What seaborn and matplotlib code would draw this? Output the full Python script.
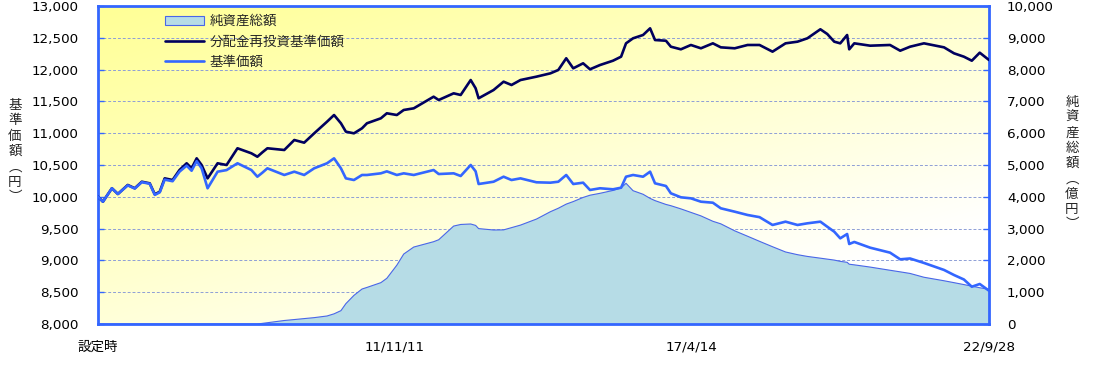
import numpy as np
import pandas as pd
import matplotlib
matplotlib.use("Agg")
import matplotlib.pyplot as plt
import matplotlib.dates as mdates
from matplotlib.colors import LinearSegmentedColormap
import seaborn as sns

# ---------------- data ----------------
dates = [
    "2006-06-04", "2006-07-07", "2006-09-05", "2006-10-15", "2006-12-20", "2007-02-05",
    "2007-03-24", "2007-05-16", "2007-06-19", "2007-07-22", "2007-08-24", "2007-10-16",
    "2007-12-01", "2008-01-18", "2008-02-20", "2008-03-25", "2008-04-27", "2008-06-06",
    "2008-08-12", "2008-10-11", "2008-12-23", "2009-03-26", "2009-05-05", "2009-06-08",
    "2009-07-11", "2009-11-01", "2010-01-07", "2010-03-14", "2010-05-20", "2010-08-14",
    "2010-09-30", "2010-11-15", "2010-12-18", "2011-02-10", "2011-04-05", "2011-05-08",
    "2011-08-09", "2011-09-18", "2011-11-24", "2012-01-09", "2012-03-16", "2012-07-27",
    "2012-08-30", "2012-12-08", "2013-01-24", "2013-04-01", "2013-05-04", "2013-05-24",
    "2013-09-01", "2013-11-07", "2013-12-30", "2014-02-28", "2014-06-15", "2014-09-16",
    "2014-11-08", "2014-12-31", "2015-02-16", "2015-04-23", "2015-06-08", "2015-08-14",
    "2015-11-09", "2016-01-02", "2016-02-04", "2016-03-22", "2016-05-28", "2016-07-14",
    "2016-08-16", "2016-10-28", "2016-11-30", "2017-02-05", "2017-04-13", "2017-06-19",
    "2017-09-07", "2017-10-30", "2018-01-31", "2018-04-27", "2018-07-16", "2018-10-11",
    "2019-01-06", "2019-03-27", "2019-06-01", "2019-08-27", "2019-10-12", "2019-11-28",
    "2020-01-07", "2020-02-22", "2020-03-07", "2020-04-10", "2020-07-25", "2020-12-05",
    "2021-02-11", "2021-04-18", "2021-07-20", "2021-12-01", "2022-02-06", "2022-04-13",
    "2022-06-05", "2022-07-28", "2022-09-28",
]

# 分配金再投資基準価額 (円)
nav_reinvest = [
    10002, 9923, 10134, 10044, 10186, 10134,
    10237, 10212, 10039, 10080, 10290, 10264,
    10421, 10527, 10448, 10605, 10500, 10290,
    10527, 10500, 10763, 10684, 10630, 10700,
    10763, 10736, 10893, 10851, 10998, 11181,
    11286, 11156, 11024, 10998, 11077, 11156,
    11234, 11313, 11286, 11365, 11391, 11574,
    11522, 11627, 11601, 11836, 11706, 11549,
    11679, 11810, 11758, 11836, 11889, 11941,
    11994, 12178, 12020, 12099, 12005, 12072,
    12140, 12203, 12413, 12492, 12544, 12649,
    12465, 12454, 12360, 12319, 12387, 12335,
    12413, 12350, 12335, 12387, 12387, 12282,
    12413, 12439, 12492, 12634, 12560, 12439,
    12413, 12544, 12319, 12413, 12376, 12387,
    12297, 12360, 12413, 12350, 12256, 12203,
    12140, 12266, 12151,
]

# 基準価額 (円)
nav = [
    10002, 9923, 10134, 10044, 10180, 10130,
    10230, 10205, 10030, 10070, 10270, 10245,
    10395, 10490, 10410, 10560, 10450, 10134,
    10395, 10420, 10527, 10421, 10316, 10380,
    10448, 10343, 10395, 10343, 10448, 10527,
    10605, 10448, 10290, 10264, 10343, 10343,
    10369, 10400, 10343, 10369, 10343, 10421,
    10358, 10369, 10327, 10500, 10400, 10201,
    10237, 10316, 10264, 10290, 10228, 10222,
    10237, 10343, 10201, 10222, 10107, 10134,
    10118, 10143, 10316, 10343, 10316, 10395,
    10212, 10170, 10055, 9992, 9976, 9923,
    9907, 9819, 9766, 9714, 9680, 9557,
    9609, 9557, 9583, 9609, 9530, 9451,
    9347, 9415, 9258, 9290, 9200, 9122,
    9017, 9030, 8960, 8850, 8770, 8700,
    8586, 8629, 8524,
]

# 純資産総額 (億円)
net_assets = [
    0, 0, 0, 0, 0, 0,
    0, 0, 0, 0, 0, 0,
    0, 0, 0, 0, 0, 0,
    0, 0, 0, 0, 0, 20,
    40, 110, 140, 170, 200, 252,
    320, 420, 640, 900, 1100, 1150,
    1300, 1437, 1850, 2200, 2420, 2588,
    2650, 3080, 3130, 3145, 3100, 3000,
    2956, 2960, 3030, 3110, 3300, 3531,
    3640, 3770, 3850, 3980, 4050, 4110,
    4200, 4280, 4425, 4192, 4080, 3950,
    3880, 3760, 3720, 3620, 3510, 3400,
    3230, 3150, 2930, 2760, 2600, 2430,
    2265, 2180, 2125, 2070, 2040, 2010,
    1970, 1940, 1880, 1860, 1790, 1690,
    1640, 1590, 1470, 1360, 1300, 1240,
    1190, 1140, 1091,
]

tick_dates = ["2006-06-04", "2011-11-11", "2017-04-14", "2022-09-28"]
tick_labels = ["設定時", "11/11/11", "17/4/14", "22/9/28"]
left_ticks = list(range(8000, 13001, 500))
right_ticks = list(range(0, 10001, 1000))

labels = ["純資産総額", "分配金再投資基準価額", "基準価額"]

# ---------------- styling ----------------
sns.set_style("white")
plt.rcParams["font.family"] = ["DejaVu Sans", "Noto Sans CJK JP"]

BLUE = "#3366FF"
NAVY = "#00005E"
FILL = "#B6DCE6"
FILL_EDGE = "#4A66E8"

df = pd.DataFrame({
    "date": pd.to_datetime(dates),
    "nav_reinvest": nav_reinvest,
    "nav": nav,
    "net_assets": net_assets,
})

W, H = 1093, 370
fig = plt.figure(figsize=(W / 100, H / 100), dpi=100)
pos = [98 / W, 1 - 324 / H, (989 - 98) / W, (324 - 6) / H]

# background gradient axes
bg = fig.add_axes(pos, zorder=0)
nx, ny = 200, 100
xx, yy = np.meshgrid(np.linspace(0, 1, nx), np.linspace(0, 1, ny))
t = np.clip(0.55 * xx + 0.65 * yy, 0, 1)  # yy: 0 top -> 1 bottom (origin upper)
cmap = LinearSegmentedColormap.from_list("yw", ["#FFFF96", "#FFFFC8", "#FFFFFF"])
bg.imshow(t, cmap=cmap, aspect="auto", extent=[0, 1, 0, 1], origin="upper",
          interpolation="bilinear")
bg.set_axis_off()

# right axis (fill + grid)
ax2 = fig.add_axes(pos, zorder=1)
ax2.patch.set_visible(False)
# left axis (lines)
ax = fig.add_axes(pos, zorder=2, sharex=ax2)
ax.patch.set_visible(False)

ax2.fill_between(df["date"], df["net_assets"], 0, color=FILL, edgecolor="none",
                 zorder=2, label=labels[0])
sns.lineplot(data=df, x="date", y="net_assets", ax=ax2, color=FILL_EDGE,
             lw=0.8, estimator=None, zorder=3, legend=False)

sns.lineplot(data=df, x="date", y="nav_reinvest", ax=ax, color=NAVY, lw=1.9,
             estimator=None, label=labels[1], zorder=4)
sns.lineplot(data=df, x="date", y="nav", ax=ax, color=BLUE, lw=1.9,
             estimator=None, label=labels[2], zorder=4)

# limits
xd = pd.to_datetime(tick_dates)
ax.set_xlim(xd[0], xd[-1])
ax.set_ylim(8000, 13000)
ax2.set_ylim(0, 10000)

# grid on ax2
ax2.set_yticks(right_ticks)
ax2.yaxis.grid(True, color="#8E9FD6", ls=(0, (3, 2)), lw=0.7, zorder=1)
ax2.xaxis.grid(False)
ax2.set_axisbelow(True)

# ticks
ax.set_yticks(left_ticks)
ax.set_yticklabels([f"{v:,}" for v in left_ticks])
ax.yaxis.tick_left()
ax2.yaxis.tick_right()
ax2.set_yticklabels([f"{v:,}" for v in right_ticks])
ax.set_xticks(xd)
ax.set_xticklabels(tick_labels)
ax2.tick_params(axis="x", bottom=False, labelbottom=False)

ax.tick_params(axis="y", direction="in", length=4, width=1, color=BLUE,
               pad=14, labelsize=9.7, labelcolor="black")
ax2.tick_params(axis="y", direction="in", length=4, width=1, color=BLUE,
                pad=13, labelsize=9.7, labelcolor="black", left=False,
                right=True, labelleft=False, labelright=True)
ax.tick_params(axis="x", direction="in", length=4, width=1, color=BLUE,
               pad=12, labelsize=9.7, labelcolor="black")
for lab in ax2.get_yticklabels():
    lab.set_horizontalalignment("left")

ax.set_xlabel("")
ax.set_ylabel("")
ax2.set_xlabel("")
ax2.set_ylabel("")

for a in (ax, ax2):
    for s in a.spines.values():
        s.set_color(BLUE)
        s.set_linewidth(2)
for s in ax2.spines.values():
    s.set_visible(False)

# vertical axis titles
fig.text(15 / W, 1 - 151 / H, "\n".join(list("基準価額") + ["︵", "円", "︶"]),
         ha="center", va="center", fontsize=9.7, linespacing=1.12,
         family=["Noto Sans CJK JP"])
fig.text(1072 / W, 1 - 163 / H, "\n".join(list("純資産総額") + ["︵", "億", "円", "︶"]),
         ha="center", va="center", fontsize=9.7, linespacing=1.12,
         family=["Noto Sans CJK JP"])

# legend
from matplotlib.patches import Patch
from matplotlib.lines import Line2D
handles = [
    Patch(facecolor=FILL, edgecolor=FILL_EDGE, linewidth=0.8),
    Line2D([], [], color=NAVY, lw=1.9),
    Line2D([], [], color=BLUE, lw=1.9),
]
leg = ax.legend(handles, labels, loc="upper left",
                bbox_to_anchor=(165 / W, 1 - 15 / H), bbox_transform=fig.transFigure,
                frameon=False, borderpad=0, borderaxespad=0, handlelength=2.9,
                handleheight=0.6, handletextpad=0.4, labelspacing=0.55,
                prop={"size": 9.7, "family": ["DejaVu Sans", "Noto Sans CJK JP"]})

fig.savefig("out.png", dpi=100)
